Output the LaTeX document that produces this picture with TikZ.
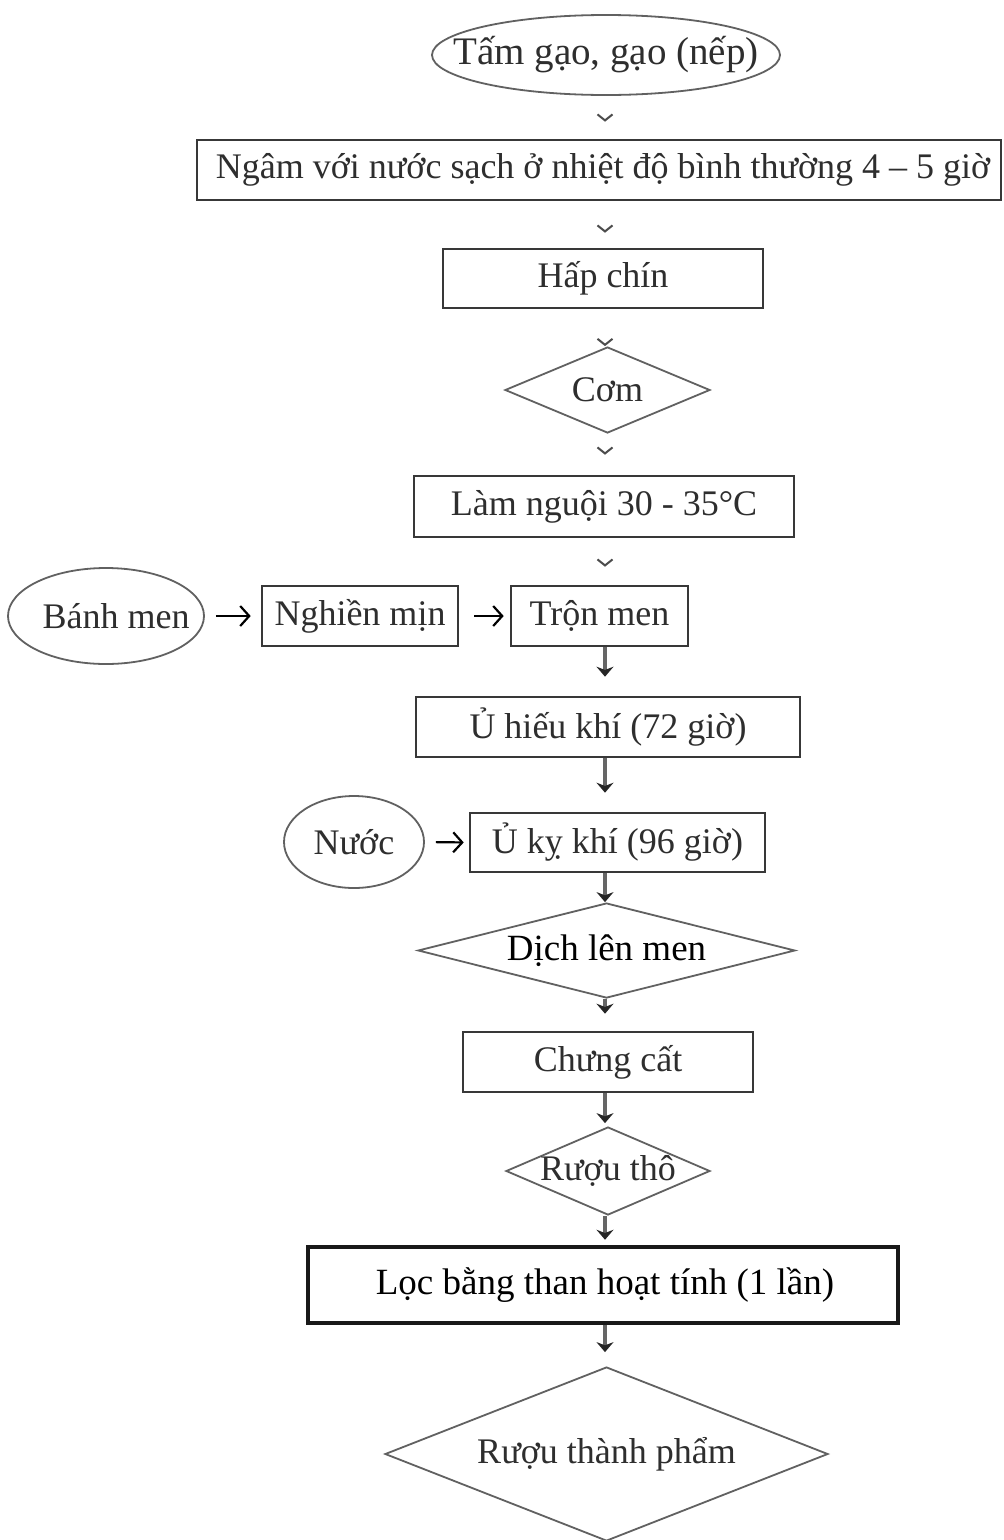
\documentclass[tikz,border=0pt]{standalone}
\usepackage{fontspec}
\setmainfont{Liberation Serif}
\usetikzlibrary{shapes.geometric,arrows.meta}
\begin{document}
\begin{tikzpicture}[x=1pt,y=-1pt,
  txt/.style={font=\fontsize{36}{42}\selectfont, text=black!82, inner sep=0pt},
  bigtxt/.style={font=\fontsize{37}{43}\selectfont, text=black, inner sep=0pt},
  boxn/.style={draw=black!78, line width=2.6pt, rectangle, inner sep=0pt},
  elln/.style={draw=black!62, line width=1.8pt, ellipse, inner sep=0pt},
  dian/.style={draw=black!62, line width=1.8pt, diamond, inner sep=0pt},
  tinyarr/.style={draw=white, line width=0.1pt, -{Straight Barb[length=6pt,width=15pt,line width=2pt,color=black!70]}},
  downarr/.style={draw=black!60, line width=3.5pt, -{Stealth[length=10pt,width=17pt,color=black!85]}},
  sidearr/.style={draw=black, line width=2.2pt, -{Straight Barb[length=9pt,width=20pt,line width=2.2pt]}}
]
\useasboundingbox[fill=white] (0,0) rectangle (1004,1540);
\coordinate (axis) at (605,0);

% top part
\node[elln, minimum width=348pt, minimum height=80pt] (e1) at (606,55) {};
\node[txt, font=\fontsize{39}{45}\selectfont] (e1t) at (e1) {Tấm gạo, gạo (nếp)};

\node[boxn, minimum width=804pt, minimum height=60pt] (b1) at (599,170) {};
\node[txt] (b1t) at (603,170) {Ngâm với nước sạch ở nhiệt độ bình thường 4 – 5 giờ};

\node[boxn, minimum width=320pt, minimum height=59pt] (b2) at (603,278.5) {};
\node[txt] (b2t) at (b2) {Hấp chín};

\node[dian, minimum width=205pt, minimum height=86pt] (d1) at (607.5,390) {};
\node[txt] (d1t) at (d1) {Cơm};

\node[boxn, minimum width=380pt, minimum height=61pt] (b3) at (604,506.5) {};
\node[txt] (b3t) at (b3) {Làm nguội 30 - 35°C};

% row with Bánh men
\node[elln, minimum width=196pt, minimum height=96pt] (e2) at (106,616) {};
\node[txt] (e2t) at (116,616) {Bánh men};
\node[boxn, minimum width=196pt, minimum height=60pt] (b4) at (360,616) {};
\node[txt] (b4t) at (b4) {Nghiền mịn};
\node[boxn, minimum width=177pt, minimum height=60pt] (b5) at (599.5,616) {};
\node[txt] (b5t) at (b5) {Trộn men};

\node[boxn, minimum width=384pt, minimum height=60pt] (b6) at (608,727) {};
\node[txt] (b6t) at (b6) {Ủ hiếu khí (72 giờ)};

\node[elln, minimum width=140pt, minimum height=92pt] (e3) at (354,842) {};
\node[txt] (e3t) at (e3) {Nước};
\node[boxn, minimum width=295pt, minimum height=59pt] (b7) at (617.5,842.5) {};
\node[txt] (b7t) at (b7) {Ủ kỵ khí (96 giờ)};

\node[dian, minimum width=377pt, minimum height=95pt] (d2) at (606.5,950.5) {};
\node[bigtxt] (d2t) at (d2) {Dịch lên men};

\node[boxn, minimum width=290pt, minimum height=60pt] (b8) at (608,1062) {};
\node[txt] (b8t) at (b8) {Chưng cất};

\node[dian, minimum width=204pt, minimum height=88pt] (d3) at (608,1171) {};
\node[txt] (d3t) at (d3) {Rượu thô};

\node[boxn, draw=black!90, line width=4.5pt, minimum width=590pt, minimum height=76pt] (b9) at (603,1285) {};
\node[bigtxt] (b9t) at (605,1285) {Lọc bằng than hoạt tính (1 lần)};

\node[dian, minimum width=443pt, minimum height=174pt] (d4) at (606.5,1454) {};
\node[txt] (d4t) at (d4) {Rượu thành phẩm};

% connectors
\draw[tinyarr, shorten >=17pt] (e1.south -| axis) -- (b1.north -| axis);
\draw[tinyarr, shorten >=15pt] (b1.south -| axis) -- (b2.north -| axis);
\draw[tinyarr] (b2.south -| axis) -- (d1.north -| axis);
\draw[tinyarr, shorten >=20pt] (d1.south -| axis) -- (b3.north -| axis);
\draw[tinyarr, shorten >=18pt] (b3.south -| axis) -- (b5.north -| axis);

\draw[sidearr, shorten <=11pt, shorten >=10pt] (e2.east) -- (b4.west);
\draw[sidearr, shorten <=15pt, shorten >=6pt] (b4.east) -- (b5.west);
\draw[sidearr, shorten <=11pt, shorten >=5pt] (e3.east) -- (b7.west);

\draw[downarr, shorten >=19pt] (b5.south -| axis) -- (b6.north -| axis);
\draw[downarr, shorten >=19pt] (b6.south -| axis) -- (b7.north -| axis);
\draw[downarr] (b7.south -| axis) -- (d2.north -| axis);
\draw[downarr, shorten >=17pt] (d2.south -| axis) -- (b8.north -| axis);
\draw[downarr, shorten >=3pt] (b8.south -| axis) -- (d3.north -| axis);
\draw[downarr, shorten >=5pt] (d3.south -| axis) -- (b9.north -| axis);
\draw[downarr, shorten >=14pt] (b9.south -| axis) -- (d4.north -| axis);
\end{tikzpicture}
\end{document}
